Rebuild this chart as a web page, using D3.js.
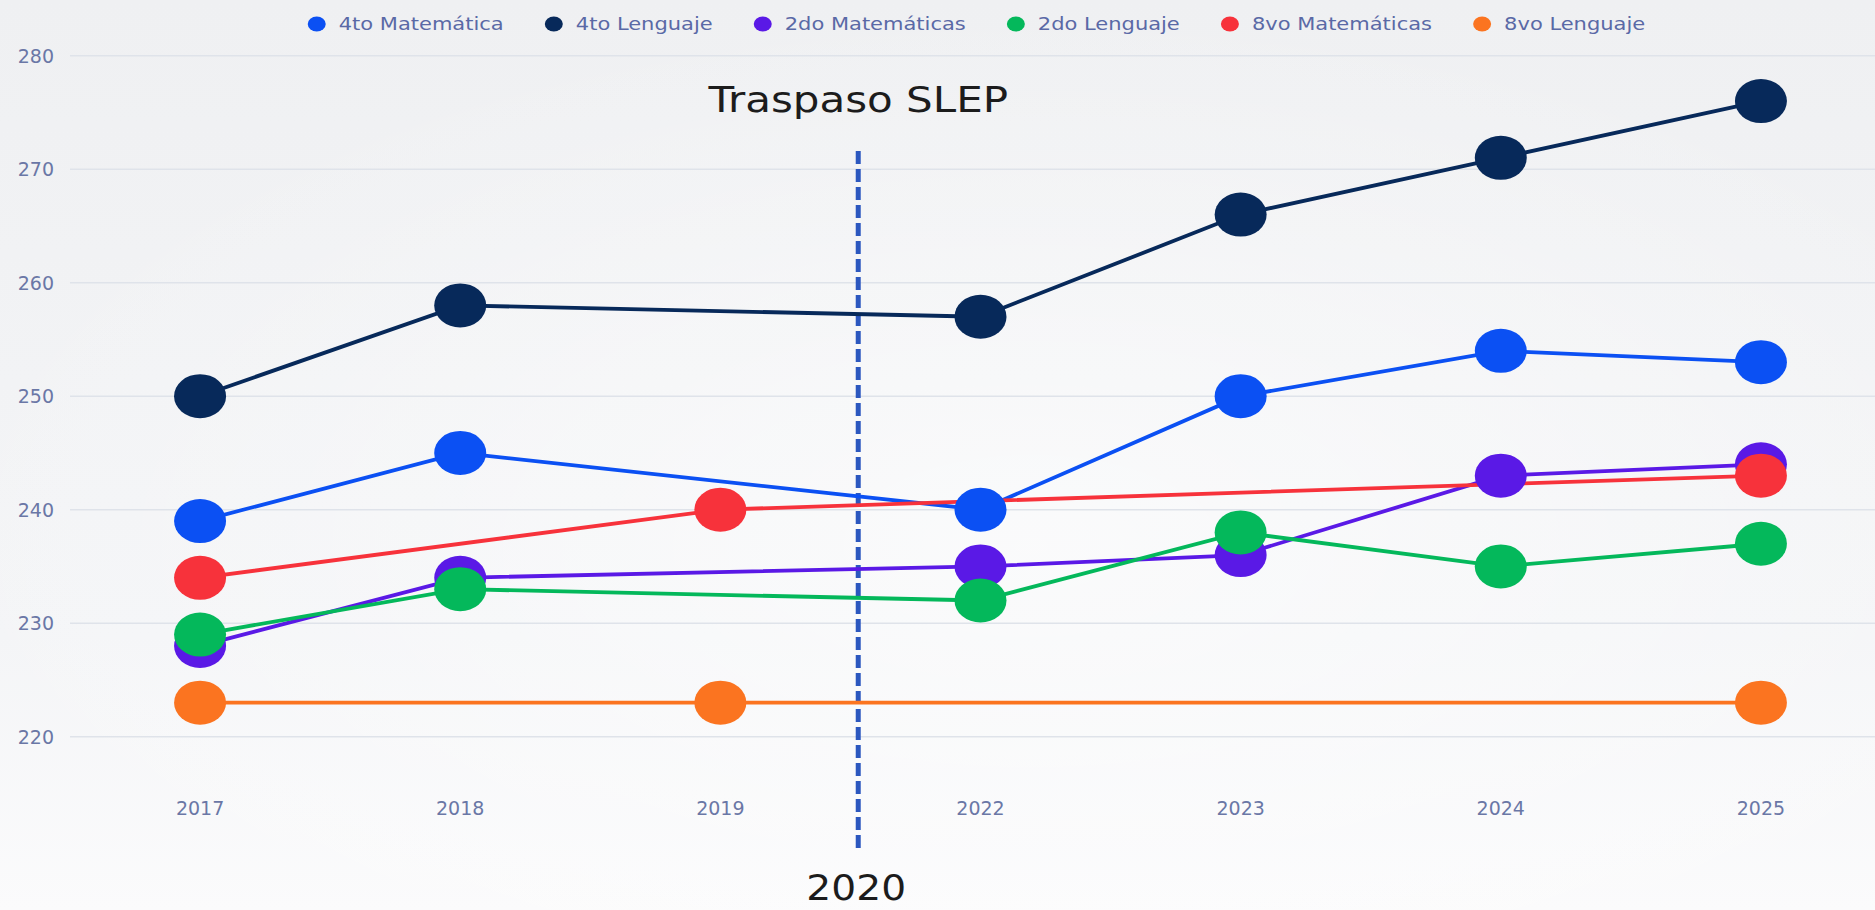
<!DOCTYPE html>
<html>
<head>
<meta charset="utf-8">
<script src="https://cdn.jsdelivr.net/npm/d3@7"></script>
<style>
html, body { margin: 0; padding: 0; overflow: hidden; background: #f2f3f5; }
svg { display: block; font-family: "DejaVu Sans", sans-serif; }
</style>
</head>
<body>
<svg id="chart"></svg>
<script>
// data
var years = ["2017", "2018", "2019", "2022", "2023", "2024", "2025"];
var seriesNames = ["4to Matemática", "4to Lenguaje", "2do Matemáticas", "2do Lenguaje", "8vo Matemáticas", "8vo Lenguaje"];
var seriesColors = ["#0b50f3", "#07295a", "#5a19e6", "#04b85b", "#f7323b", "#fb7420"];
var mat4 = [239, 245, null, 240, 250, 254, 253];
var len4 = [250, 258, null, 257, 266, 271, 276];
var mat2 = [228, 234, null, 235, 236, 243, 244];
var len2 = [229, 233, null, 232, 238, 235, 237];
var mat8 = [234, null, 240, null, null, null, 243];
var len8 = [223, null, 223, null, null, null, 223];
var yTicks = [220, 230, 240, 250, 260, 270, 280];
var markerLabel = "Traspaso SLEP";
var markerYear = "2020";

var allSeries = [mat4, len4, mat2, len2, mat8, len8];

var W = 1875, H = 910;
var stretch = 1.2;   // the picture is a bit wider than tall
var tickColor = "#6a77a6";

var svg = d3.select("#chart").attr("width", W).attr("height", H);

/****** background ******/
var defs = svg.append("defs");
var bg = defs.append("linearGradient").attr("id", "bg")
    .attr("x1", 0).attr("y1", 0).attr("x2", 0).attr("y2", 1);
bg.append("stop").attr("offset", "0%").attr("stop-color", "#eff0f2");
bg.append("stop").attr("offset", "70%").attr("stop-color", "#f4f5f7");
bg.append("stop").attr("offset", "100%").attr("stop-color", "#fbfbfc");
var glow = defs.append("radialGradient").attr("id", "glow")
    .attr("cx", "0.55").attr("cy", "0.6").attr("r", "0.6");
glow.append("stop").attr("offset", "0%").attr("stop-color", "#ffffff").attr("stop-opacity", 0.6);
glow.append("stop").attr("offset", "100%").attr("stop-color", "#ffffff").attr("stop-opacity", 0);
svg.append("rect").attr("width", W).attr("height", H).attr("fill", "url(#bg)");
svg.append("rect").attr("width", W).attr("height", H).attr("fill", "url(#glow)");

/****** scales ******/
var x = d3.scalePoint().domain(years).range([70, 1891]).padding(0.5);
var y = d3.scaleLinear().domain([220, 280]).range([736.7, 55.7]);

function stretchedText(g, tx, ty, s) {
    return g.append("text").attr("transform", "translate(" + tx + "," + ty + ") scale(" + s + ",1)");
}

/****** grid + axes ******/
var grid = svg.append("g");
grid.selectAll("line").data(yTicks).enter().append("line")
    .attr("x1", 70).attr("x2", W)
    .attr("y1", function (d) { return y(d); })
    .attr("y2", function (d) { return y(d); })
    .attr("stroke", "#dfe3ea").attr("stroke-width", 1.5);

svg.append("g").selectAll("text").data(yTicks).enter().append("text")
    .attr("x", 54).attr("y", function (d) { return y(d); })
    .attr("dy", "0.36em").attr("text-anchor", "end")
    .attr("font-size", 19).attr("fill", tickColor)
    .text(function (d) { return d; });

svg.append("g").selectAll("text").data(years).enter().append("text")
    .attr("x", function (d) { return x(d); }).attr("y", 808)
    .attr("dy", "0.36em").attr("text-anchor", "middle")
    .attr("font-size", 19).attr("fill", tickColor)
    .text(function (d) { return d; });

/****** 2020 marker ******/
var step = x.step();
var markX = x("2019") + step * 0.53;
svg.append("line")
    .attr("x1", markX).attr("x2", markX)
    .attr("y1", 151).attr("y2", 853)
    .attr("stroke", "#2b57bf").attr("stroke-width", 5)
    .attr("stroke-dasharray", "13,5");

stretchedText(svg, markX, 112, 1.2)
    .attr("text-anchor", "middle").attr("font-size", 35).attr("fill", "#1c1c1c")
    .text(markerLabel);
stretchedText(svg, markX - 2, 900, 1.12)
    .attr("text-anchor", "middle").attr("font-size", 35).attr("fill", "#1c1c1c")
    .text(markerYear);

/****** lines + points ******/
var series = allSeries.map(function (vals, i) {
    return {
        name: seriesNames[i],
        color: seriesColors[i],
        points: years.map(function (yr, j) { return {year: yr, v: vals[j]}; })
            .filter(function (p) { return p.v !== null; })
    };
});

var line = d3.line()
    .x(function (d) { return x(d.year); })
    .y(function (d) { return y(d.v); });

svg.append("g").selectAll("path").data(series).enter().append("path")
    .attr("d", function (d) { return line(d.points); })
    .attr("fill", "none")
    .attr("stroke", function (d) { return d.color; })
    .attr("stroke-width", 3.8);

var dots = svg.append("g").selectAll("g").data(series).enter().append("g")
    .attr("fill", function (d) { return d.color; });
dots.selectAll("ellipse").data(function (d) { return d.points; }).enter().append("ellipse")
    .attr("cx", function (d) { return x(d.year); })
    .attr("cy", function (d) { return y(d.v); })
    .attr("rx", 26).attr("ry", 22);

/****** legend ******/
var legend = svg.append("g");
var items = legend.selectAll("g").data(series).enter().append("g");
items.append("ellipse").attr("rx", 9).attr("ry", 7.5).attr("cy", 24)
    .attr("fill", function (d) { return d.color; });
items.append("text")
    .attr("font-size", 17.5).attr("fill", "#5a69a6")
    .text(function (d) { return d.name; });

var cx = 0;
items.each(function (d, i) {
    var t = d3.select(this).select("text");
    var w = t.node().getComputedTextLength() * stretch;
    d3.select(this).select("ellipse").attr("cx", cx);
    t.attr("transform", "translate(" + (cx + 22) + ",30) scale(" + stretch + ",1)");
    cx = cx + 22 + w + 50;
});
var total = cx - 50 + 9;
legend.attr("transform", "translate(" + (976.5 - total / 2 + 9) + ",0)");
</script>
</body>
</html>
